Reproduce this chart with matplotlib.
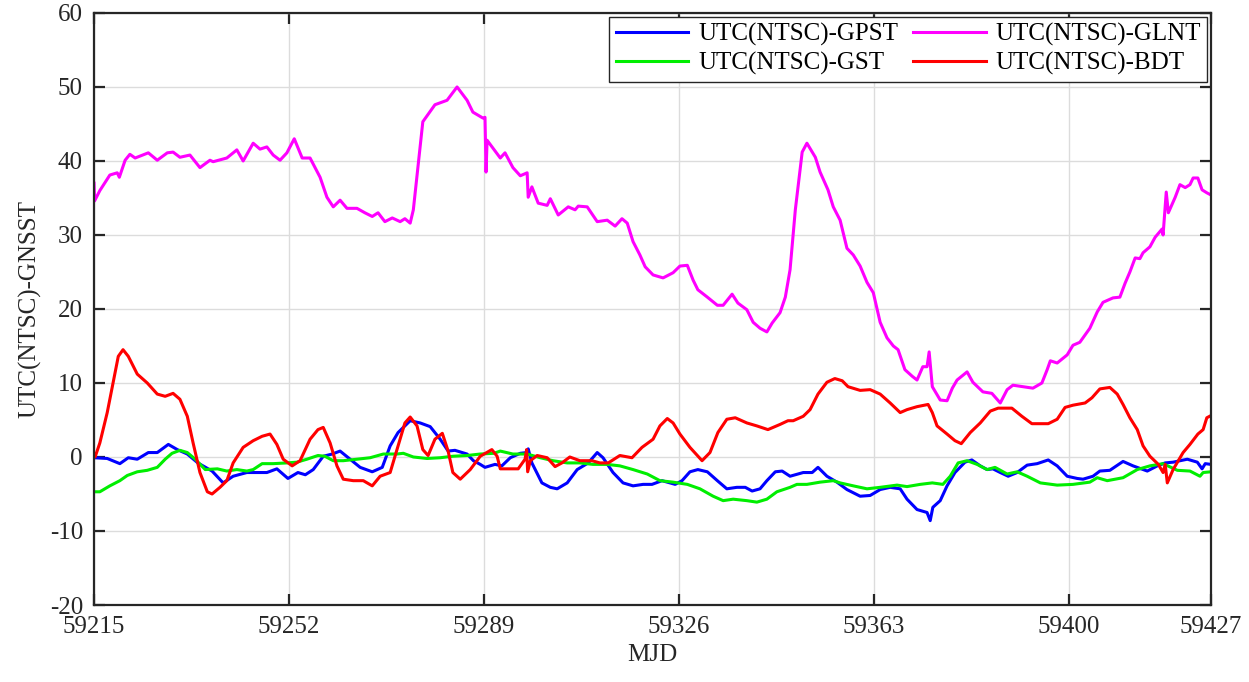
import numpy as np
import matplotlib
matplotlib.use('Agg')
import matplotlib.pyplot as plt

plt.rcParams['font.family'] = ['Liberation Serif', 'DejaVu Serif']
plt.rcParams['axes.unicode_minus'] = False

t0 = 59215
xticks = [59215, 59252, 59289, 59326, 59363, 59400, 59427]
yticks = list(range(-20, 61, 10))

# days after MJD 59215
glnt_day = [0.0, 0.1, 1.1, 3.0, 4.4, 4.8, 5.9, 6.8, 7.8, 10.3, 12.0, 13.9, 15.0, 16.3, 18.2,
            20.1, 22.0, 22.6, 25.2, 27.1, 28.3, 30.2, 31.5, 32.8, 34.0, 35.3, 36.6, 38.0,
            39.5, 41.0, 42.9, 44.2, 45.4, 46.7, 48.0, 49.9, 51.4, 52.8, 53.9, 55.2, 56.6,
            58.1, 59.0, 60.0, 60.6, 62.4, 64.7, 67.0, 68.9, 70.8, 71.9, 73.8, 74.2, 74.4,
            74.6, 77.1, 78.0, 79.5, 80.9, 82.2, 82.4, 83.1, 84.3, 86.0, 86.6, 88.1, 90.0,
            91.3, 91.9, 93.6, 95.5, 97.4, 98.9, 100.2, 101.2, 102.3, 103.6, 104.6, 106.1,
            108.0, 109.9, 111.2, 112.6, 113.7, 114.6, 116.4, 118.3, 119.4, 121.1, 122.2,
            123.9, 125.1, 126.4, 127.7, 128.7, 130.2, 131.2, 132.1, 133.1, 134.4, 135.3,
            136.9, 137.8, 139.3, 140.3, 141.6, 142.9, 144.1, 145.4, 146.7, 147.9, 149.2,
            150.5, 151.7, 152.6, 153.9, 155.3, 156.2, 157.3, 158.1, 158.5, 159.1, 160.6,
            161.9, 162.9, 163.8, 165.7, 166.8, 168.7, 170.4, 172.0, 173.3, 174.4, 176.3,
            178.2, 179.9, 180.9, 181.5, 182.8, 184.7, 185.8, 187.1, 189.0, 190.4, 191.5,
            193.4, 194.7, 195.7, 196.6, 197.6, 198.5, 199.1, 200.4, 201.4, 202.7, 202.9,
            203.5, 203.9, 205.2, 206.1, 207.1, 208.0, 208.6, 209.5, 210.3, 211.2, 212.0]
glnt_val = [37.0, 34.6, 36.0, 38.1, 38.4, 37.8, 40.1, 40.9, 40.4, 41.1, 40.1, 41.1, 41.2, 40.5, 40.8,
            39.1, 40.1, 39.9, 40.4, 41.5, 40.0, 42.4, 41.6, 41.9, 40.8, 40.1, 41.1, 43.0,
            40.4, 40.4, 37.8, 35.1, 33.8, 34.7, 33.6, 33.6, 33.0, 32.5, 33.0, 31.8, 32.3,
            31.8, 32.2, 31.6, 33.4, 45.3, 47.6, 48.2, 50.0, 48.2, 46.6, 45.8, 45.9, 38.5,
            42.8, 40.4, 41.1, 39.1, 38.0, 38.4, 35.1, 36.5, 34.3, 34.0, 34.9, 32.7, 33.8,
            33.4, 33.9, 33.8, 31.8, 32.0, 31.2, 32.2, 31.6, 29.1, 27.3, 25.7, 24.6,
            24.2, 24.9, 25.8, 25.9, 23.9, 22.6, 21.6, 20.5, 20.5, 22.0, 20.8,
            19.9, 18.2, 17.4, 16.9, 18.1, 19.5, 21.6, 25.3, 33.4, 41.2, 42.4,
            40.5, 38.5, 36.1, 33.8, 32.0, 28.2, 27.3, 25.8, 23.6, 22.2, 18.2,
            16.1, 15.0, 14.5, 11.8, 10.9, 10.4, 12.2, 12.2, 14.2, 9.5, 7.7,
            7.6, 9.3, 10.4, 11.5, 10.1, 8.8, 8.6, 7.3, 9.1, 9.7, 9.5,
            9.3, 10.0, 11.8, 13.0, 12.7, 13.8, 15.1, 15.5, 17.4, 19.6, 20.9,
            21.5, 21.6, 23.5, 25.0, 26.9, 26.8, 27.6, 28.4, 29.7, 30.8, 30.0,
            35.8, 33.0, 35.1, 36.8, 36.4, 36.8, 37.7, 37.7, 36.1, 35.7, 35.4]

bdt_day = [0.0, 0.2, 1.1, 2.5, 3.6, 4.6, 5.5, 6.5, 8.2, 10.1, 12.0, 13.5, 15.0, 16.3, 17.7,
           18.8, 20.1, 21.5, 22.4, 23.9, 25.2, 26.4, 28.3, 30.2, 31.9, 33.4, 34.7, 35.9,
           37.6, 39.1, 41.0, 42.5, 43.5, 44.8, 46.1, 47.3, 49.2, 51.1, 52.8, 54.3, 56.2,
           57.5, 59.0, 60.0, 61.3, 62.4, 63.4, 64.7, 66.1, 67.2, 68.1, 69.5, 71.4, 73.3,
           75.5, 76.5, 77.1, 79.0, 80.5, 81.8, 82.1, 82.3, 82.8, 84.1, 86.0, 87.5, 88.8,
           90.3, 92.2, 94.5, 96.0, 97.6, 99.8, 102.1, 104.0, 106.1, 107.4, 108.8, 109.9,
           111.2, 113.1, 115.4, 116.9, 118.4, 120.1, 121.7, 123.9, 125.8, 127.9, 130.2,
           131.7, 132.7, 134.6, 135.9, 137.4, 139.1, 140.6, 142.0, 143.1, 145.4, 147.3,
           149.2, 151.1, 153.0, 154.3, 156.2, 158.3, 159.1, 160.0, 161.9, 163.4, 164.6,
           166.3, 168.2, 170.1, 171.6, 174.2, 176.1, 178.0, 181.1, 182.8, 184.3, 185.8,
           188.1, 189.4, 190.9, 192.8, 194.2, 195.3, 196.6, 198.0, 199.1, 200.4, 202.0,
           202.9, 203.3, 203.7, 204.8, 206.7, 208.0, 209.5, 210.5, 211.2, 212.0]
bdt_val = [0.4, 0.0, 1.9, 6.0, 10.0, 13.6, 14.5, 13.6, 11.2, 10.0, 8.5, 8.2, 8.6, 7.8, 5.5,
           1.9, -2.1, -4.7, -5.0, -4.1, -3.2, -0.8, 1.3, 2.2, 2.8, 3.1, 1.7, -0.3,
           -1.2, -0.5, 2.4, 3.7, 4.0, 1.9, -1.2, -3.0, -3.2, -3.2, -3.9, -2.6, -2.1,
           1.0, 4.6, 5.4, 4.2, 1.0, 0.2, 2.4, 3.2, 0.8, -2.1, -3.0, -1.7, 0.1,
           1.0, 0.1, -1.6, -1.6, -1.6, -0.3, 1.0, -2.0, -0.5, 0.2, -0.1, -1.3, -0.8,
           0.0, -0.5, -0.5, -0.8, -0.8, 0.2, -0.1, 1.3, 2.4, 4.2, 5.2, 4.6,
           3.1, 1.3, -0.5, 0.6, 3.3, 5.1, 5.3, 4.6, 4.2, 3.7, 4.4,
           4.9, 4.9, 5.5, 6.4, 8.5, 10.1, 10.6, 10.3, 9.5, 9.0, 9.1,
           8.5, 7.3, 6.0, 6.4, 6.8, 7.1, 6.0, 4.2, 3.1, 2.2, 1.8,
           3.3, 4.6, 6.2, 6.6, 6.6, 5.5, 4.5, 4.5, 5.1, 6.7, 7.0,
           7.3, 8.0, 9.2, 9.4, 8.5, 7.1, 5.3, 3.7, 1.5, 0.1, -1.0,
           -2.1, -1.0, -3.5, -1.7, 0.6, 1.7, 3.1, 3.7, 5.3, 5.6]

gpst_day = [0.0, 2.5, 4.9, 6.5, 8.2, 10.3, 12.0, 14.1, 15.8, 17.7, 19.7, 22.4, 24.5, 26.4,
            29.0, 30.9, 32.8, 34.7, 36.8, 38.7, 40.1, 41.6, 43.5, 45.2, 46.7, 48.6, 50.5,
            52.8, 54.7, 56.2, 57.7, 60.0, 61.9, 63.8, 65.7, 67.2, 68.5, 70.8, 72.0, 73.3,
            74.2, 76.1, 77.4, 79.0, 80.9, 82.2, 82.4, 83.1, 85.0, 86.6, 87.9, 89.8, 91.7,
            93.8, 95.5, 96.6, 98.5, 100.4, 102.3, 104.2, 105.9, 107.8, 110.3, 111.6, 113.1,
            114.6, 116.4, 118.3, 120.1, 122.0, 123.6, 124.9, 126.4, 127.7, 129.3, 130.6,
            132.1, 134.6, 136.3, 137.4, 139.1, 141.0, 142.9, 145.4, 147.3, 149.2, 151.1,
            153.0, 154.3, 156.2, 158.1, 158.7, 159.2, 160.6, 161.9, 163.4, 165.3, 166.6,
            168.2, 169.5, 170.6, 172.0, 173.5, 175.2, 177.1, 179.0, 181.1, 182.8, 184.7,
            186.6, 187.7, 189.6, 190.9, 192.8, 195.3, 197.2, 199.9, 201.8, 203.3, 204.8,
            207.5, 209.4, 210.3, 210.9, 212.0]
gpst_val = [-0.1, -0.2, -0.9, -0.1, -0.3, 0.6, 0.6, 1.7, 1.0, 0.4, -0.8, -1.9, -3.5, -2.6,
            -2.1, -2.1, -2.1, -1.6, -2.9, -2.1, -2.4, -1.7, 0.1, 0.4, 0.8, -0.3, -1.4,
            -2.0, -1.4, 1.5, 3.3, 4.9, 4.6, 4.1, 2.4, 0.8, 0.9, 0.4, -0.5, -1.0,
            -1.4, -1.0, -1.2, -0.1, 0.5, 0.6, 1.1, -0.8, -3.5, -4.1, -4.3, -3.5, -1.7,
            -0.8, 0.6, -0.1, -2.1, -3.5, -3.9, -3.7, -3.7, -3.2, -3.7, -3.2, -2.0,
            -1.7, -2.0, -3.2, -4.3, -4.1, -4.1, -4.6, -4.3, -3.2, -2.0, -1.9,
            -2.6, -2.1, -2.1, -1.4, -2.6, -3.4, -4.4, -5.3, -5.2, -4.4, -4.1,
            -4.3, -5.7, -7.1, -7.5, -8.6, -6.8, -5.9, -3.9, -2.1, -0.7, -0.4,
            -1.2, -1.7, -1.6, -2.1, -2.6, -2.1, -1.1, -0.9, -0.4, -1.2, -2.6,
            -2.9, -3.0, -2.6, -1.9, -1.8, -0.6, -1.2, -1.9, -1.2, -0.8, -0.7,
            -0.3, -0.7, -1.6, -0.9, -1.0]

gst_day = [0.0, 1.1, 3.0, 4.9, 6.3, 8.2, 10.1, 12.0, 13.5, 14.8, 16.3, 17.7, 19.2, 21.1,
           23.4, 25.2, 27.1, 29.0, 30.2, 31.9, 34.0, 36.6, 38.5, 40.4, 42.5, 43.8, 45.4,
           47.3, 49.9, 52.4, 54.9, 57.5, 58.7, 60.6, 63.2, 65.7, 68.1, 70.8, 73.3, 75.9,
           77.1, 79.5, 82.2, 84.7, 87.1, 89.8, 92.2, 94.7, 97.4, 99.8, 102.3, 105.0, 107.4,
           109.9, 112.6, 115.0, 117.5, 119.4, 121.3, 123.9, 125.8, 127.7, 129.6, 132.1,
           133.4, 135.3, 137.8, 140.3, 141.6, 144.1, 146.7, 149.2, 152.4, 154.3, 156.8,
           159.1, 161.1, 162.5, 164.0, 165.7, 167.6, 169.5, 171.0, 173.3, 175.2, 177.1,
           179.6, 182.8, 185.8, 189.0, 190.4, 192.3, 195.3, 198.0, 200.4, 202.9, 205.6,
           208.0, 209.9, 210.5, 212.0]
gst_val = [-4.7, -4.7, -3.9, -3.2, -2.5, -2.0, -1.8, -1.4, -0.3, 0.5, 0.9, 0.6, -0.3, -1.7,
           -1.6, -1.9, -1.7, -1.9, -1.7, -0.9, -0.9, -0.8, -0.7, -0.3, 0.2, 0.1, -0.5,
           -0.5, -0.3, -0.1, 0.4, 0.4, 0.5, 0.0, -0.2, -0.1, 0.1, 0.2, 0.4, 0.5,
           0.8, 0.4, 0.4, -0.1, -0.5, -0.8, -0.8, -1.0, -1.0, -1.2, -1.7, -2.3, -3.2,
           -3.4, -3.7, -4.3, -5.3, -5.9, -5.7, -5.9, -6.1, -5.7, -4.7, -4.1,
           -3.7, -3.7, -3.4, -3.2, -3.5, -3.9, -4.3, -4.1, -3.8, -4.0, -3.7,
           -3.5, -3.7, -2.6, -0.8, -0.5, -1.0, -1.7, -1.4, -2.3, -2.0, -2.6,
           -3.5, -3.8, -3.7, -3.4, -2.8, -3.2, -2.8, -1.7, -1.2, -0.9, -1.8,
           -1.9, -2.6, -2.1, -2.0]

fig = plt.figure(figsize=(12.49, 6.82), dpi=100)
ax = fig.add_axes([0.0753, 0.1129, 0.8943, 0.8681])

lw = 2.2
h_gps, = ax.plot(t0 + np.array(gpst_day), gpst_val, color='#0000ff', lw=lw, label='UTC(NTSC)-GPST')
h_glo, = ax.plot(t0 + np.array(glnt_day), glnt_val, color='#ff00ff', lw=lw, label='UTC(NTSC)-GLNT')
h_gal, = ax.plot(t0 + np.array(gst_day), gst_val, color='#00ee00', lw=lw, label='UTC(NTSC)-GST')
h_bds, = ax.plot(t0 + np.array(bdt_day), bdt_val, color='#ff0000', lw=lw, label='UTC(NTSC)-BDT')

ax.set_xlim(59215, 59427)
ax.set_ylim(-20, 60)
ax.set_xticks(xticks)
ax.set_yticks(yticks)
ax.grid(True, color='#dcdcdc', linewidth=1.0)
ax.set_axisbelow(True)

for s in ax.spines.values():
    s.set_linewidth(1.6)
    s.set_color('#262626')
ax.tick_params(direction='in', length=8, width=1.6, top=True, right=True,
               labelsize=18, colors='#262626', pad=8)

ax.set_xlabel('MJD', fontsize=18, color='#262626', labelpad=4)
ax.set_ylabel('UTC(NTSC)-GNSST', fontsize=18, color='#262626', labelpad=6)

leg = ax.legend(handles=[h_gps, h_gal, h_glo, h_bds], ncol=2, loc='upper right',
                bbox_to_anchor=(1.0, 1.0), borderaxespad=0.15, fontsize=18,
                fancybox=False, framealpha=1, edgecolor='#262626',
                handlelength=2.9, handletextpad=0.4, columnspacing=0.6,
                labelspacing=0.25, borderpad=0.25)
leg.get_frame().set_linewidth(1.0)

fig.savefig('out.png', dpi=100)
